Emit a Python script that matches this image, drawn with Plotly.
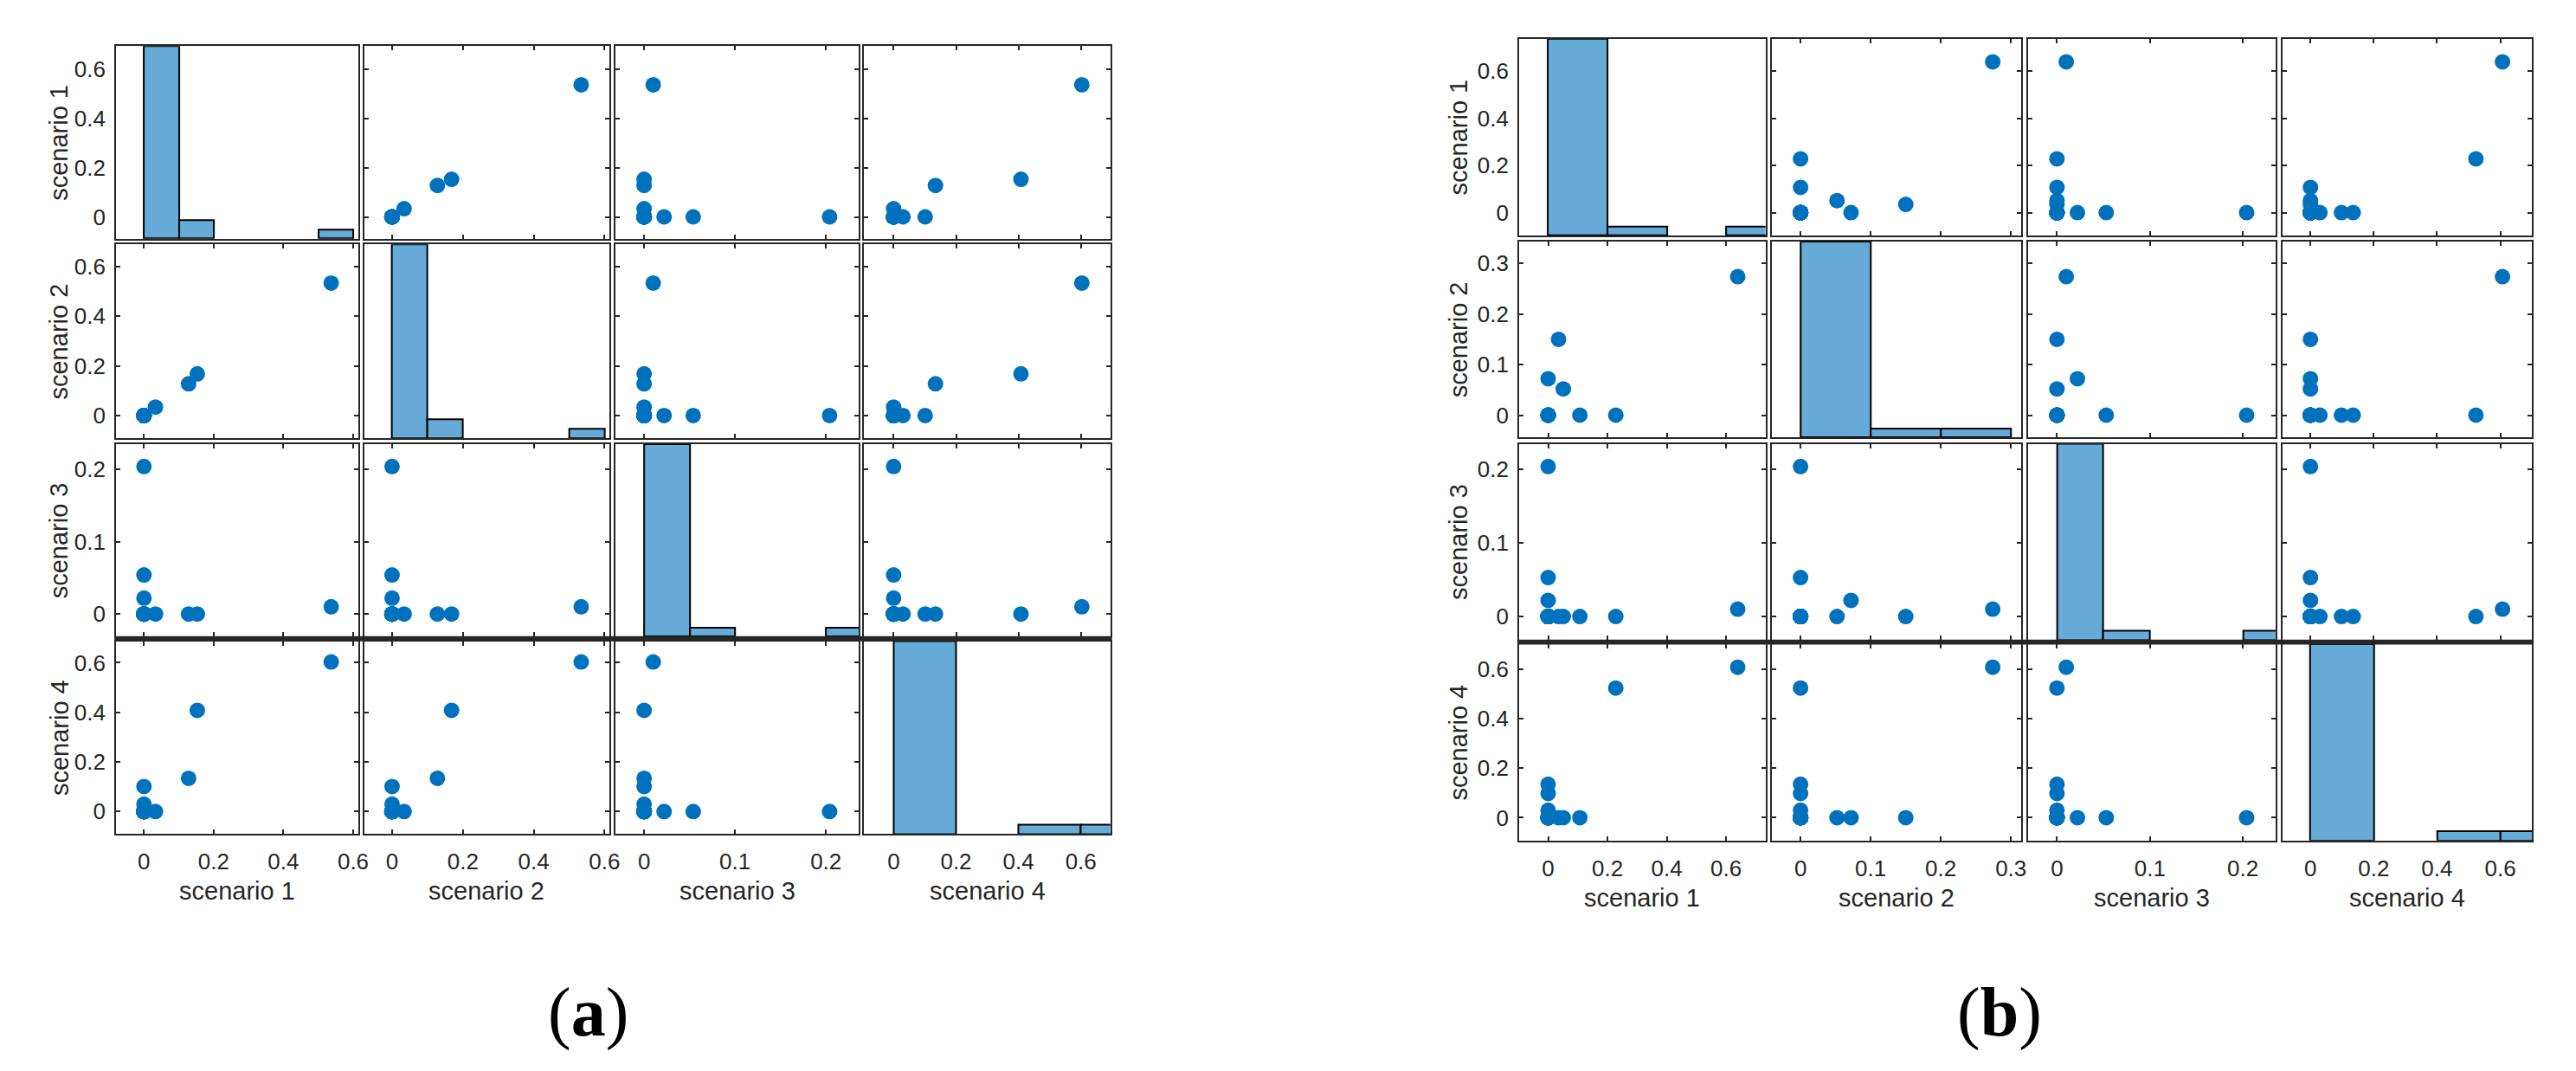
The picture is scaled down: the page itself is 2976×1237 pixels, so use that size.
import numpy as np
import plotly.graph_objects as go

W, H = 2976, 1237

names = ["scenario 1", "scenario 2", "scenario 3", "scenario 4"]

# panel (a): 24 observations of the four scenarios
a_s1 = [0.537, 0.153, 0.128, 0.033, 0.0, 0.0, 0.0, 0.0, 0.0, 0.0, 0.0, 0.0,
        0.0, 0.0, 0.0, 0.0, 0.0, 0.0, 0.0, 0.0, 0.0, 0.0, 0.0, 0.0]
a_s2 = [0.534, 0.168, 0.128, 0.034, 0.0, 0.0, 0.0, 0.0, 0.0, 0.0, 0.0, 0.0,
        0.0, 0.0, 0.0, 0.0, 0.0, 0.0, 0.0, 0.0, 0.0, 0.0, 0.0, 0.0]
a_s3 = [0.010, 0.0, 0.0, 0.0, 0.204, 0.054, 0.022, 0.0, 0.0, 0.0, 0.0, 0.0,
        0.0, 0.0, 0.0, 0.0, 0.0, 0.0, 0.0, 0.0, 0.0, 0.0, 0.0, 0.0]
a_s4 = [0.603, 0.408, 0.134, 0.0, 0.0, 0.0, 0.0, 0.101, 0.030, 0.0, 0.0, 0.0,
        0.0, 0.0, 0.0, 0.0, 0.0, 0.0, 0.0, 0.0, 0.0, 0.0, 0.0, 0.0]

# panel (b)
b_s1 = [0.639, 0.035, 0.0, 0.051, 0.107, 0.228, 0.0, 0.0, 0.0, 0.0, 0.0, 0.0,
        0.0, 0.0, 0.0, 0.0, 0.0, 0.0, 0.0, 0.0, 0.0, 0.0, 0.0, 0.0]
b_s2 = [0.274, 0.150, 0.072, 0.052, 0.0, 0.0, 0.0, 0.0, 0.0, 0.0, 0.0, 0.0,
        0.0, 0.0, 0.0, 0.0, 0.0, 0.0, 0.0, 0.0, 0.0, 0.0, 0.0, 0.0]
b_s3 = [0.010, 0.0, 0.022, 0.0, 0.0, 0.0, 0.204, 0.053, 0.0, 0.0, 0.0, 0.0,
        0.0, 0.0, 0.0, 0.0, 0.0, 0.0, 0.0, 0.0, 0.0, 0.0, 0.0, 0.0]
b_s4 = [0.607, 0.0, 0.0, 0.0, 0.0, 0.523, 0.0, 0.0, 0.098, 0.135, 0.030, 0.0,
        0.0, 0.0, 0.0, 0.0, 0.0, 0.0, 0.0, 0.0, 0.0, 0.0, 0.0, 0.0]

AX = "#262626"
DOT = "#0072BD"
BAR = "#66AAD7"
LW = 2

# cell edges are given as axis-line centres (px); plotly draws lines outside the domain
PANELS = [
    dict(tag="a", data=[a_s1, a_s2, a_s3, a_s4],
         cols=[(125.6, 408.7), (413.3, 700.0), (705.0, 989.0), (993.5, 1280.8)],
         rows=[(44.3, 268.7), (273.3, 499.0), (504.0, 728.0), (731.5, 956.0)],
         band=(726.7, 732.7),
         xr=[(-0.080, 0.615), (-0.079, 0.614), (-0.0314, 0.236), (-0.094, 0.694)],
         yr=[(-0.0887, 0.694), (-0.091, 0.690), (-0.031, 0.235), (-0.0895, 0.687)],
         dt=[0.2, 0.2, 0.1, 0.2], bins=[0.1, 0.1, 0.05, 0.2],
         ytitle_x=60.6, xtitle_y=1021.0, label=(674, 1161.7)),
    dict(tag="b", data=[b_s1, b_s2, b_s3, b_s4],
         cols=[(1753.2, 2040.8), (2046.5, 2337.8), (2343.1, 2632.4), (2638.4, 2929.9)],
         rows=[(35.7, 265.0), (270.0, 498.3), (503.5, 732.0), (735.0, 963.7)],
         band=(730.7, 736.5),
         xr=[(-0.0975, 0.7325), (-0.0406, 0.315), (-0.0314, 0.235), (-0.0888, 0.700)],
         yr=[(-0.097, 0.737), (-0.0442, 0.3435), (-0.0317, 0.235), (-0.0917, 0.700)],
         dt=[0.2, 0.1, 0.1, 0.2], bins=[0.2, 0.1, 0.05, 0.2],
         ytitle_x=1684.0, xtitle_y=1029.0, label=(2311.5, 1161.7)),
]

fig = go.Figure()
lay = {}
annotations = []
shapes = []
hist_ax = 32
half = LW / 2

for p, P in enumerate(PANELS):
    data = [np.array(v) for v in P["data"]]
    for i in range(4):
        for j in range(4):
            k = p * 16 + i * 4 + j + 1
            xa, ya = f"x{k}", f"y{k}"
            diag = i == j
            x0, x1 = P["cols"][j]
            y0, y1 = P["rows"][i]
            x0, x1 = x0 + half, x1 - half
            y0, y1 = y0 + half, y1 - half
            common = dict(
                showline=True, linecolor=AX, linewidth=LW, showgrid=False, zeroline=False,
                ticks="" if diag else "inside", ticklen=5, tickwidth=2, tickcolor=AX,
                mirror=True if diag else "ticks", tick0=0,
                tickfont=dict(size=26, color=AX),
            )
            lay[f"xaxis{k}"] = dict(common, domain=[x0 / W, x1 / W], anchor=ya,
                                    range=list(P["xr"][j]), dtick=P["dt"][j],
                                    showticklabels=(i == 3), ticklabelstandoff=8)
            lay[f"yaxis{k}"] = dict(common, domain=[1 - y1 / H, 1 - y0 / H], anchor=xa,
                                    range=list(P["yr"][i]), dtick=P["dt"][i],
                                    showticklabels=(j == 0), ticklabelstandoff=5)
            if diag:
                fig.add_trace(go.Scatter(x=[], y=[], xaxis=xa, yaxis=ya, showlegend=False))
                size = P["bins"][j]
                edges = np.arange(0, data[j].max() + size, size)
                counts, edges = np.histogram(data[j], bins=edges)
                keep = counts > 0
                centers = (edges[:-1] + edges[1:]) / 2
                hist_ax += 1
                fig.add_trace(go.Bar(
                    x=centers[keep], y=counts[keep], width=size,
                    marker=dict(color=BAR, line=dict(color="black", width=2)),
                    xaxis=xa, yaxis=f"y{hist_ax}", showlegend=False, hoverinfo="skip",
                ))
                lay[f"yaxis{hist_ax}"] = dict(overlaying=ya, anchor=xa, visible=False,
                                              range=[0, int(counts.max())])
            else:
                fig.add_trace(go.Scatter(
                    x=data[j], y=data[i], mode="markers",
                    marker=dict(size=18, color=DOT, line=dict(width=0)),
                    xaxis=xa, yaxis=ya, showlegend=False, hoverinfo="skip",
                ))

    # heavy rule between the 3rd and 4th rows (as in the source figure)
    b0, b1 = P["band"]
    shapes.append(dict(type="rect", xref="paper", yref="paper",
                       x0=(P["cols"][0][0] - half) / W, x1=(P["cols"][3][1] + half) / W,
                       y0=1 - b1 / H, y1=1 - b0 / H,
                       fillcolor=AX, line=dict(width=0), layer="above"))

    # axis titles
    for j in range(4):
        cx = sum(P["cols"][j]) / 2
        annotations.append(dict(text=names[j], x=cx / W, y=1 - P["xtitle_y"] / H,
                                xref="paper", yref="paper", showarrow=False,
                                xanchor="center", yanchor="middle",
                                font=dict(size=29, color=AX)))
    for i in range(4):
        cy = sum(P["rows"][i]) / 2
        annotations.append(dict(text=names[i], x=P["ytitle_x"] / W, y=1 - cy / H,
                                xref="paper", yref="paper", showarrow=False, textangle=-90,
                                xanchor="center", yanchor="middle",
                                font=dict(size=29, color=AX)))
    lx, ly = P["label"]
    annotations.append(dict(text=f"(<b>{P['tag']}</b>)", x=lx / W, y=1 - ly / H,
                            xref="paper", yref="paper", showarrow=False,
                            xanchor="center", yanchor="middle",
                            font=dict(size=80, color="black", family="Liberation Serif")))

fig.update_layout(
    **lay,
    annotations=annotations,
    shapes=shapes,
    width=W, height=H, autosize=False,
    margin=dict(l=0, r=0, t=0, b=0),
    paper_bgcolor="white", plot_bgcolor="white",
    font=dict(family="Liberation Sans, Arial, sans-serif", color=AX),
    bargap=0, showlegend=False,
)

fig.write_html("out.html")
